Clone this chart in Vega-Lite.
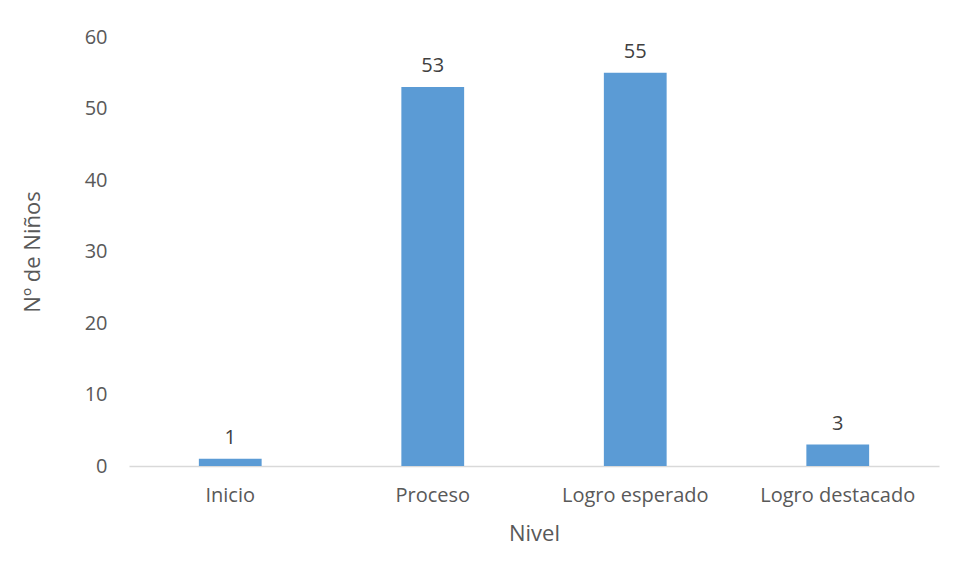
{
  "$schema": "https://vega.github.io/schema/vega-lite/v6.json",
  "autosize": "none",
  "width": 810,
  "height": 429,
  "padding": {"left": 129, "top": 37, "right": 16, "bottom": 112},
  "background": "white",
  "data": {"values": [
    {"Nivel": "Inicio", "n": 1},
    {"Nivel": "Proceso", "n": 53},
    {"Nivel": "Logro esperado", "n": 55},
    {"Nivel": "Logro destacado", "n": 3}
  ]},
  "encoding": {
    "x": {"field": "Nivel", "type": "nominal", "sort": null,
      "scale": {"paddingInner": 0.69, "paddingOuter": 0.345},
      "axis": {"title": "Nivel", "labelAngle": 0, "ticks": false, "domainColor": "#d9d9d9", "domainWidth": 1.5,
        "labelPadding": 19, "titlePadding": 18}},
    "y": {"field": "n", "type": "quantitative",
      "scale": {"domain": [0, 60], "nice": false},
      "axis": {"title": "Nº de Niños", "values": [0, 10, 20, 30, 40, 50, 60], "grid": false, "domain": false, "ticks": false,
        "labelPadding": 22, "titlePadding": 40}}
  },
  "layer": [
    {"mark": {"type": "bar", "color": "#5B9BD5"}},
    {"mark": {"type": "text", "baseline": "bottom", "dy": -11, "fontSize": 20, "color": "#404040", "font": "Open Sans"},
     "encoding": {"text": {"field": "n", "type": "quantitative"}}}
  ],
  "config": {
    "view": {"stroke": null},
    "axis": {"labelFont": "Open Sans", "titleFont": "Open Sans", "labelFontSize": 20, "titleFontSize": 22,
      "labelColor": "#595959", "titleColor": "#595959", "titleFontWeight": "normal"}
  }
}
